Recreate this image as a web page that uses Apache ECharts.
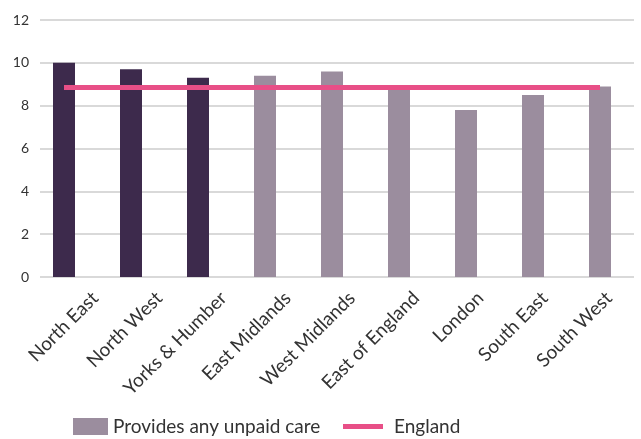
<!DOCTYPE html>
<html>
<head>
<meta charset="utf-8">
<script src="https://cdn.jsdelivr.net/npm/echarts@6/dist/echarts.min.js"></script>
<style>html,body{margin:0;padding:0;background:#fff;}#c{width:641px;height:439px;}</style>
</head>
<body>
<div id="c"></div>
<script>
var categories = ['North East','North West','Yorks & Humber','East Midlands','West Midlands','East of England','London','South East','South West'];
var careValues = [10.0, 9.7, 9.3, 9.4, 9.6, 8.8, 7.8, 8.5, 8.9];
var englandValue = 8.85;
var highlighted = [true, true, true, false, false, false, false, false, false];
var yTicks = [0, 2, 4, 6, 8, 10, 12];

var darkColor = '#3d2a4c';
var lightColor = '#9b8d9e';
var pinkColor = '#e84f87';
var textColor = '#333333';
var fontFam = 'Lato, "Open Sans", sans-serif';
var yMin = yTicks[0], yMax = yTicks[yTicks.length - 1], yStep = yTicks[1] - yTicks[0];

var chart = echarts.init(document.getElementById('c'));
chart.setOption({
  animation: false,
  grid: [
    { left: 30.5, right: 7.5, top: 20, bottom: 162 },
    { left: 40, right: 7, top: 20, bottom: 162 },
    { left: 63, right: 0, top: 20, bottom: 162 }
  ],
  xAxis: [
    { type: 'category', gridIndex: 0, data: categories,
      axisLine: { show: false }, axisTick: { show: false }, axisLabel: { show: false } },
    { type: 'category', gridIndex: 1, data: categories,
      axisLine: { show: false }, axisTick: { show: false }, axisLabel: { show: false } },
    { type: 'category', gridIndex: 2, data: categories,
      axisLine: { show: false }, axisTick: { show: false },
      axisLabel: { rotate: 45, interval: 0, fontSize: 19, color: textColor, fontFamily: fontFam, margin: 18 } }
  ],
  yAxis: [
    { type: 'value', gridIndex: 0, min: yMin, max: yMax, interval: yStep,
      axisLine: { show: false }, axisTick: { show: false }, axisLabel: { show: false }, splitLine: { show: false } },
    { type: 'value', gridIndex: 1, min: yMin, max: yMax, interval: yStep,
      axisLine: { show: false }, axisTick: { show: false },
      axisLabel: { fontSize: 14, color: textColor, fontFamily: fontFam, margin: 11 },
      splitLine: { lineStyle: { color: '#cccccc', width: 1.5 } } },
    { type: 'value', gridIndex: 2, min: yMin, max: yMax, interval: yStep, show: false }
  ],
  legend: [
    {
      left: 73, top: 417, padding: 0,
      itemWidth: 35, itemHeight: 17,
      textStyle: { fontSize: 19, color: textColor, fontFamily: fontFam },
      data: [{ name: 'Provides any unpaid care', icon: 'rect' }]
    },
    {
      left: 343, top: 417, padding: 0,
      itemWidth: 40, itemHeight: 5,
      textStyle: { fontSize: 19, color: textColor, fontFamily: fontFam, padding: [0, 0, 0, 6] },
      data: [{ name: 'England', icon: 'rect' }]
    }
  ],
  series: [
    {
      name: 'Provides any unpaid care',
      type: 'bar',
      xAxisIndex: 0, yAxisIndex: 0,
      barWidth: 22,
      itemStyle: { color: lightColor },
      data: careValues.map(function (v, i) {
        return highlighted[i] ? { value: v, itemStyle: { color: darkColor } } : v;
      })
    },
    {
      name: 'England',
      type: 'line',
      xAxisIndex: 0, yAxisIndex: 0,
      symbol: 'none',
      lineStyle: { color: pinkColor, width: 5 },
      itemStyle: { color: pinkColor },
      data: categories.map(function () { return englandValue; }),
      z: 5
    }
  ]
});
</script>
</body>
</html>
